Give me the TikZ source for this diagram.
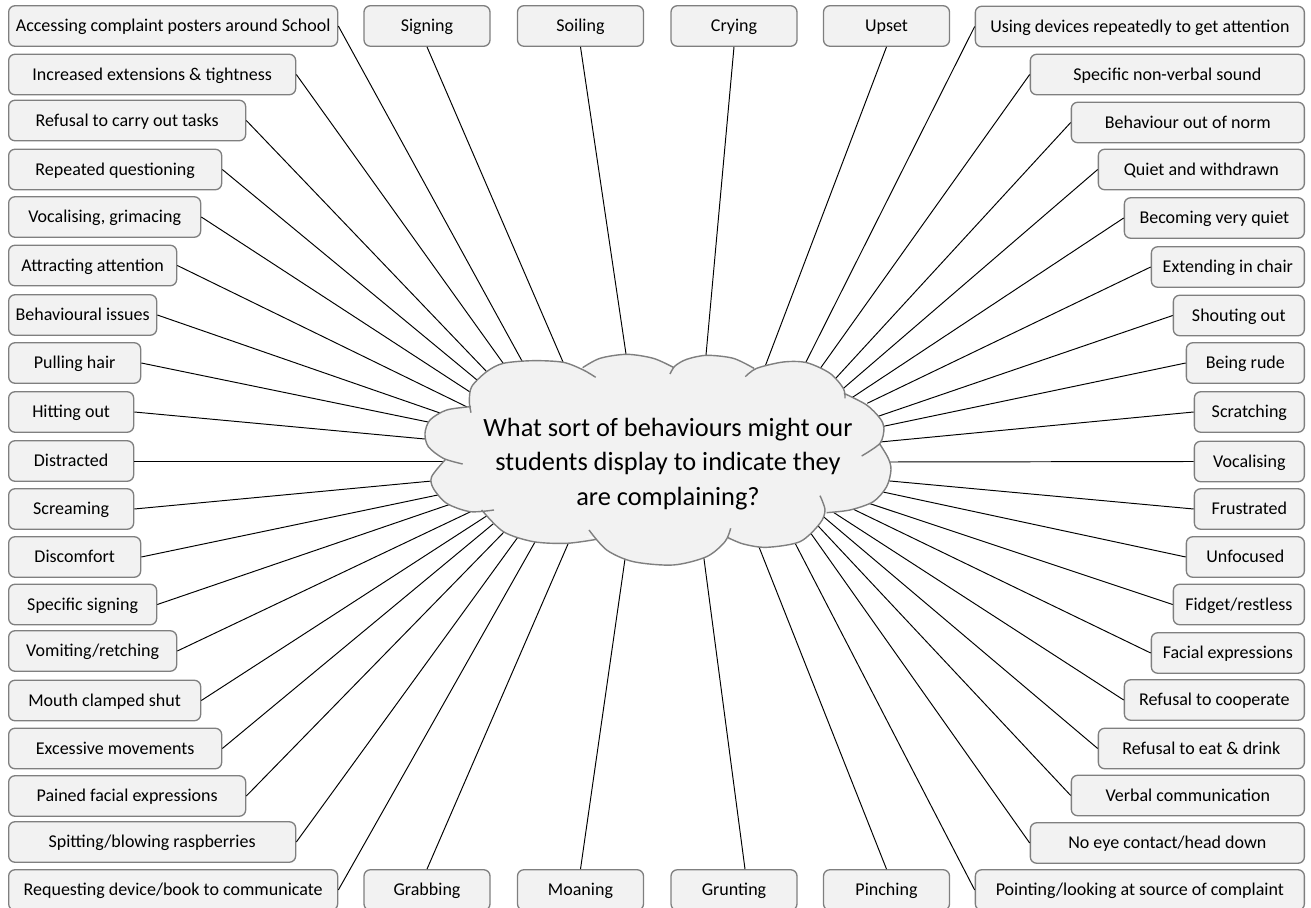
\documentclass[tikz,border=0pt]{standalone}
\usepackage{fontspec}
\setmainfont{Carlito}
\definecolor{cloudfill}{RGB}{242,242,242}
\definecolor{edgegray}{RGB}{127,127,127}
\def\u{0.02cm}
\tikzset{
    item/.style={draw=edgegray,fill=cloudfill,line width=0.75pt,rounded corners=3.6pt,inner sep=0pt,
        minimum height=40.5*\u,text height=8.8pt,text depth=2pt,font=\fontsize{10.25}{12}\selectfont},
    itemleft/.style={item,anchor=west},
    itemright/.style={item,anchor=east},
    itemrow/.style={item,minimum width=126*\u},
    link/.style={line width=0.55pt,shorten >=-3pt},
    lobe/.style={draw=edgegray,line width=0.8pt}
}
\def\cloudlobes{
    plot[smooth] coordinates {(213,248) (208,215) (215,170) (260,125) (310,100) (400,92) (490,97) (550,120) (587,142)}
    plot[smooth] coordinates {(548,113) (600,85) (680,73) (760,85) (820,112)}
    plot[smooth] coordinates {(810,132) (825,108) (860,88) (920,76) (1000,85) (1062,115)}
    plot[smooth] coordinates {(1036,140) (1070,115) (1150,96) (1220,98) (1290,130) (1330,175) (1335,205)}
    plot[smooth] coordinates {(1332,190) (1400,225) (1440,265) (1452,295) (1440,340) (1385,378)}
    plot[smooth] coordinates {(1438,340) (1465,385) (1473,420) (1460,470) (1420,515) (1350,540) (1280,548)}
    plot[smooth] coordinates {(1260,497) (1275,540) (1260,580) (1200,635) (1100,652) (1030,642) (982,622)}
    plot[smooth] coordinates {(992,595) (975,635) (920,680) (820,705) (700,695) (620,660) (567,600)}
    plot[smooth] coordinates {(590,628) (500,640) (400,635) (310,605) (245,540)}
    plot[smooth] coordinates {(282,540) (210,545) (140,520) (100,475) (95,440) (135,390)}
    plot[smooth] coordinates {(188,402) (130,385) (85,350) (75,310) (90,270) (140,240) (213,230)}
}
\begin{document}
\begin{tikzpicture}[x=\u,y=-\u]
    \useasboundingbox (0,0) rectangle (1311,908);

    % left column
    \node[itemleft,minimum width=329*\u] (accessing) at (8,26) {Accessing complaint posters around School};
    \node[itemleft,minimum width=287*\u] (extensions) at (8,74.5) {Increased extensions \& tightness};
    \node[itemleft,minimum width=237*\u] (tasks) at (8,120.5) {Refusal to carry out tasks};
    \node[itemleft,minimum width=213*\u] (questioning) at (8,169.5) {Repeated questioning};
    \node[itemleft,minimum width=192*\u] (grimacing) at (8,217) {Vocalising, grimacing};
    \node[itemleft,minimum width=168*\u] (attention) at (8,265.5) {Attracting attention};
    \node[itemleft,minimum width=148*\u] (issues) at (8,315) {Behavioural issues};
    \node[itemleft,minimum width=132*\u] (hair) at (8,363) {Pulling hair};
    \node[itemleft,minimum width=125*\u] (hitting) at (8,412) {Hitting out};
    \node[itemleft,minimum width=125*\u] (distracted) at (8,461) {Distracted};
    \node[itemleft,minimum width=125*\u] (screaming) at (8,509) {Screaming};
    \node[itemleft,minimum width=132*\u] (discomfort) at (8,557) {Discomfort};
    \node[itemleft,minimum width=148*\u] (signs) at (8,604.5) {Specific signing};
    \node[itemleft,minimum width=168*\u] (vomiting) at (8,651) {Vomiting/retching};
    \node[itemleft,minimum width=192*\u] (mouth) at (8,700.5) {Mouth clamped shut};
    \node[itemleft,minimum width=213*\u] (movements) at (8,748.5) {Excessive movements};
    \node[itemleft,minimum width=237*\u] (pained) at (8,796) {Pained facial expressions};
    \node[itemleft,minimum width=287*\u] (spitting) at (8,842) {Spitting/blowing raspberries};
    \node[itemleft,minimum width=329*\u] (requesting) at (8,890) {Requesting device/book to communicate};

    % right column
    \node[itemright,minimum width=329*\u] (devices) at (1305,26.5) {Using devices repeatedly to get attention};
    \node[itemright,minimum width=274*\u] (sound) at (1305,74.5) {Specific non-verbal sound};
    \node[itemright,minimum width=233*\u] (norm) at (1305,122.5) {Behaviour out of norm};
    \node[itemright,minimum width=206*\u] (withdrawn) at (1305,169.5) {Quiet and withdrawn};
    \node[itemright,minimum width=180*\u] (quiet) at (1305,218) {Becoming very quiet};
    \node[itemright,minimum width=153*\u] (chair) at (1305,267) {Extending in chair};
    \node[itemright,minimum width=131*\u] (shouting) at (1305,315.5) {Shouting out};
    \node[itemright,minimum width=118*\u] (rude) at (1305,363) {Being rude};
    \node[itemright,minimum width=110*\u] (scratching) at (1305,412) {Scratching};
    \node[itemright,minimum width=110*\u] (vocalising) at (1305,461.5) {Vocalising};
    \node[itemright,minimum width=110*\u] (frustrated) at (1305,509) {Frustrated};
    \node[itemright,minimum width=118*\u] (unfocused) at (1305,557) {Unfocused};
    \node[itemright,minimum width=131*\u] (fidget) at (1305,604.5) {Fidget/restless};
    \node[itemright,minimum width=153*\u] (facial) at (1305,653) {Facial expressions};
    \node[itemright,minimum width=180*\u] (cooperate) at (1305,700) {Refusal to cooperate};
    \node[itemright,minimum width=206*\u] (drink) at (1305,748.5) {Refusal to eat \& drink};
    \node[itemright,minimum width=233*\u] (verbal) at (1305,795.5) {Verbal communication};
    \node[itemright,minimum width=274*\u] (eyecontact) at (1305,843) {No eye contact/head down};
    \node[itemright,minimum width=329*\u] (pointing) at (1305,890) {Pointing/looking at source of complaint};

    % top and bottom rows
    \node[itemrow] (signing) at (427,26) {Signing};
    \node[itemrow] (soiling) at (580.5,26) {Soiling};
    \node[itemrow] (crying) at (734,26) {Crying};
    \node[itemrow] (upset) at (886.5,26) {Upset};
    \node[itemrow] (grabbing) at (427,890) {Grabbing};
    \node[itemrow] (moaning) at (580.5,890) {Moaning};
    \node[itemrow] (grunting) at (734,890) {Grunting};
    \node[itemrow] (pinching) at (886.5,890) {Pinching};

    % where the lines meet the cloud
    \coordinate (c1) at (522,361);
    \coordinate (c2) at (503,363);
    \coordinate (c3) at (487,372);
    \coordinate (c4) at (477,380);
    \coordinate (c5) at (470,392);
    \coordinate (c6) at (463,405);
    \coordinate (c7) at (440,413);
    \coordinate (c8) at (428,422);
    \coordinate (c9) at (425,439);
    \coordinate (c10) at (443,461);
    \coordinate (c11) at (432,481);
    \coordinate (c12) at (433,496);
    \coordinate (c13) at (448,505);
    \coordinate (c14) at (470,512);
    \coordinate (c15) at (485,517);
    \coordinate (c16) at (493,524);
    \coordinate (c17) at (505,531);
    \coordinate (c18) at (518,537);
    \coordinate (c19) at (535,542);
    \coordinate (d1) at (806,362);
    \coordinate (d2) at (822,366);
    \coordinate (d3) at (836,378);
    \coordinate (d4) at (845,387);
    \coordinate (d5) at (856,395);
    \coordinate (d6) at (872,401);
    \coordinate (d7) at (882,415);
    \coordinate (d8) at (885,426);
    \coordinate (d9) at (880,442);
    \coordinate (d10) at (888,462);
    \coordinate (d11) at (890,481);
    \coordinate (d12) at (883,492);
    \coordinate (d13) at (868,503);
    \coordinate (d14) at (857,511);
    \coordinate (d15) at (836,514);
    \coordinate (d16) at (825,518);
    \coordinate (d17) at (820,528);
    \coordinate (d18) at (812,535);
    \coordinate (d19) at (795,543);
    \coordinate (e1) at (563,362);
    \coordinate (e2) at (626,354);
    \coordinate (e3) at (706,355);
    \coordinate (e4) at (766,364);
    \coordinate (e5) at (568,544);
    \coordinate (e6) at (625,559);
    \coordinate (e7) at (704,559);
    \coordinate (e8) at (759,547);

    \draw[link] (accessing.east) -- (c1);
    \draw[link] (extensions.east) -- (c2);
    \draw[link] (tasks.east) -- (c3);
    \draw[link] (questioning.east) -- (c4);
    \draw[link] (grimacing.east) -- (c5);
    \draw[link] (attention.east) -- (c6);
    \draw[link] (issues.east) -- (c7);
    \draw[link] (hair.east) -- (c8);
    \draw[link] (hitting.east) -- (c9);
    \draw[link] (distracted.east) -- (c10);
    \draw[link] (screaming.east) -- (c11);
    \draw[link] (discomfort.east) -- (c12);
    \draw[link] (signs.east) -- (c13);
    \draw[link] (vomiting.east) -- (c14);
    \draw[link] (mouth.east) -- (c15);
    \draw[link] (movements.east) -- (c16);
    \draw[link] (pained.east) -- (c17);
    \draw[link] (spitting.east) -- (c18);
    \draw[link] (requesting.east) -- (c19);
    \draw[link] (devices.west) -- (d1);
    \draw[link] (sound.west) -- (d2);
    \draw[link] (norm.west) -- (d3);
    \draw[link] (withdrawn.west) -- (d4);
    \draw[link] (quiet.west) -- (d5);
    \draw[link] (chair.west) -- (d6);
    \draw[link] (shouting.west) -- (d7);
    \draw[link] (rude.west) -- (d8);
    \draw[link] (scratching.west) -- (d9);
    \draw[link] (vocalising.west) -- (d10);
    \draw[link] (frustrated.west) -- (d11);
    \draw[link] (unfocused.west) -- (d12);
    \draw[link] (fidget.west) -- (d13);
    \draw[link] (facial.west) -- (d14);
    \draw[link] (cooperate.west) -- (d15);
    \draw[link] (drink.west) -- (d16);
    \draw[link] (verbal.west) -- (d17);
    \draw[link] (eyecontact.west) -- (d18);
    \draw[link] (pointing.west) -- (d19);
    \draw[link] (signing.south) -- (e1);
    \draw[link] (soiling.south) -- (e2);
    \draw[link] (crying.south) -- (e3);
    \draw[link] (upset.south) -- (e4);
    \draw[link] (grabbing.north) -- (e5);
    \draw[link] (moaning.north) -- (e6);
    \draw[link] ([xshift=11*\u]grunting.north) -- (e7);
    \draw[link] (pinching.north) -- (e8);

    % cloud, traced from the 3x crop
    \begin{scope}[shift={(400,330)},x=0.02cm/3,y=-0.02cm/3]
        \fill[cloudfill] (300,150) -- (550,116) -- (680,100) -- (818,113) -- (920,100) -- (1045,113) -- (1150,120)
            -- (1330,195) -- (1420,280) -- (1430,345) -- (1450,430) -- (1283,549) -- (1200,600) -- (985,630)
            -- (820,680) -- (575,620) -- (450,620) -- (250,540) -- (160,490) -- (135,395) -- (110,320) -- (213,240) -- cycle;
        \fill[cloudfill] \cloudlobes;
        \draw[lobe] \cloudlobes;
    \end{scope}

    \node[align=center,font=\fontsize{15}{19.6}\selectfont] (question) at (668,464)
        {What sort of behaviours might our\\students display to indicate they\\are complaining?};
\end{tikzpicture}
\end{document}
